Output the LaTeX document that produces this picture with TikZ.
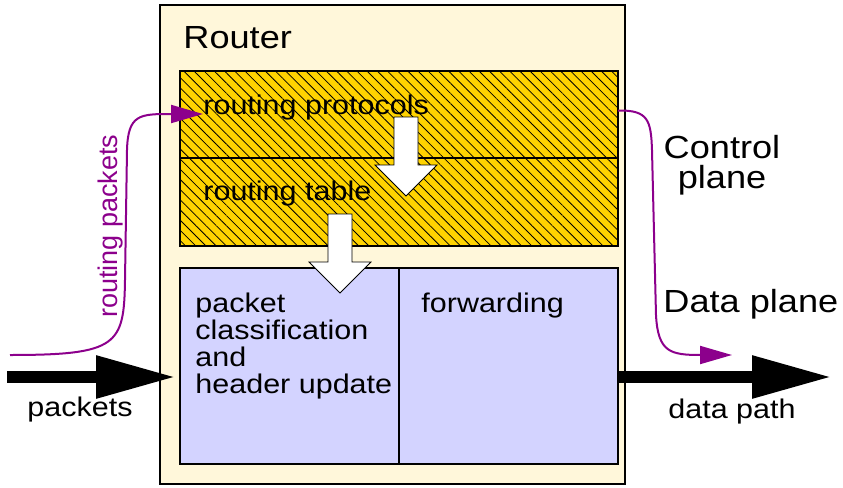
\documentclass[tikz,border=0pt]{standalone}
\usepackage{fontspec}
\setmainfont{Liberation Sans}[FakeStretch=1.13]
\newfontfamily\plainsf{Liberation Sans}
\usepackage{xcolor}
\usetikzlibrary{positioning,patterns.meta,arrows.meta}
\definecolor{cream}{HTML}{FFF7DA}
\definecolor{gold}{HTML}{FFD300}
\definecolor{lav}{HTML}{D3D3FF}
\definecolor{purp}{HTML}{8C008C}
\tikzset{box/.style={draw,line width=1pt,inner sep=0pt,outer sep=0pt},
  hatch/.style={box,preaction={fill=gold},pattern={Lines[angle=-45,distance=3.6pt,line width=0.4pt]}},
  blk/.style={box,fill=lav,minimum width=109.5pt,minimum height=98pt},
  txt/.style={inner sep=0pt,font=\fontsize{13.5}{13.5}\selectfont},
  big/.style={inner sep=0pt,font=\fontsize{16}{15}\selectfont},
  bigarrow/.style={line width=6pt,-{Triangle[length=40pt,width=20pt]}},
  purparrow/.style={purp,line width=1pt,-{Triangle[length=16pt,width=9pt]}},
  pics/downarrow/.style={code={
    \draw[fill=white,line width=0.4pt] (-12,0) -- (12,0) -- (12,48) -- (31,48) -- (0,79) -- (-31,48) -- (-12,48) -- cycle;}}}

\begin{document}
\begin{tikzpicture}[x=0.5pt,y=-0.5pt]
    \useasboundingbox (0,0) rectangle (843,488);
    \node[box,fill=cream,minimum width=232.5pt,minimum height=239.5pt] (router)at (392.5,244.5) {};
    \node[hatch,minimum width=219pt,minimum height=43.5pt] (proto)at (399,114.5) {};
    \node[hatch,minimum width=219pt,minimum height=44pt] (table)at (399,202) {};
    \node[blk] (classify)at (289.5,366) {};
    \node[blk] (fwd)at (508.5,366) {};

    \node[big,anchor=base west] (routerlbl)at (183,48) {Router};
    \node[txt,anchor=base west] (protolbl)at (203,114) {routing protocols};
    \node[txt,anchor=base west] (tablelbl)at (203,200) {routing table};
    \node[txt,anchor=north west,align=left] (classlbl)at (195,292.7) {packet\\classification\\and\\header update};
    \node[txt,anchor=base west] (fwdlbl)at (421,312) {forwarding};
    \node[big,anchor=north,align=center] (ctrllbl)at (722,135) {Control\\plane};
    \node[big,anchor=base west] (datalbl)at (663,312) {Data plane};
    \node[txt,anchor=base] (pktlbl)at (80,416) {packets};
    \node[txt,anchor=base west] (pathlbl)at (668,418) {data path};
    \node[txt,font=\plainsf\fontsize{13.5}{13.5}\selectfont,purp,anchor=base west,rotate=90] (rplbl)at (118,318) {routing packets};

    % white arrows between the stages
    \pic at (406,117) {downarrow};
    \pic at (340,214) {downarrow};

    \coordinate (rpin) at (10,355);
    \coordinate (dpout) at (732,355);
    \coordinate (pin) at (7,377);
    \coordinate (pout) at (832,377);

    \draw [purparrow] (rpin) .. controls (118,355) and (124,345) .. (125,280) -- (127,150) .. controls (128,114) and (140,114) .. (protolbl.base west);
    \draw [purparrow] ([yshift=2pt]proto.east) .. controls (648,110) and (651,120) .. (652,150) -- (656,315) .. controls (658,352) and (670,355) .. (dpout);
    \draw [bigarrow,shorten >=2pt] (pin) to [] (pin -| classify.west);
    \draw [bigarrow] (pout -| fwd.east) to [] (pout);
\end{tikzpicture}
\end{document}
